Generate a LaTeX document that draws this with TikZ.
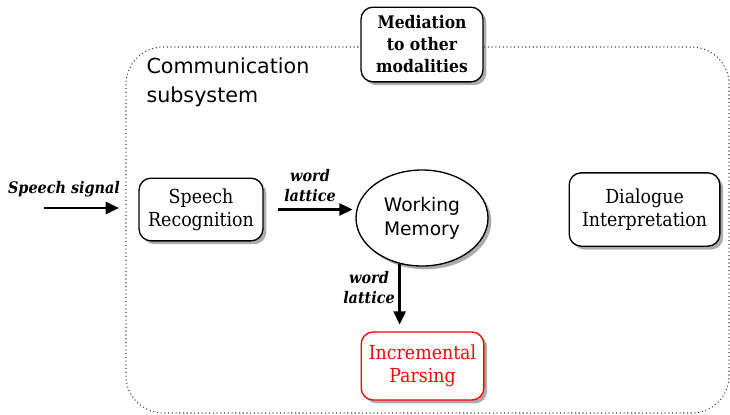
\documentclass[tikz,border=0pt]{standalone}
\usepackage{fontspec}
\setmainfont{DejaVu Serif Condensed}
\setsansfont{DejaVu Sans}
\usetikzlibrary{shapes.geometric,shadows,arrows.meta}

\tikzset{every picture/.style={line width=0.75pt}}
\tikzset{
  procbox/.style={draw, line width=1pt, rounded corners=9pt, fill=white, align=center, inner sep=1pt,
    font=\fontsize{14.5}{17}\selectfont,
    drop shadow={shadow xshift=2.5pt, shadow yshift=-2.5pt, fill=black!65}},
  flow/.style={line width=2pt, -{Triangle[length=10pt,width=9pt]}},
  flowlabel/.style={font=\fontsize{12}{15}\selectfont\bfseries\itshape, align=center, inner sep=0pt}
}

\begin{document}
\begin{tikzpicture}[x=0.75pt,y=0.75pt,yscale=-1,xscale=1]
\useasboundingbox (0,0) rectangle (730,414);

%Frame of the subsystem
\draw [dotted, line width=0.8pt, black!75, rounded corners=28pt] (126,47) rectangle (729,413);
\node [anchor=north west, align=left, inner sep=0pt, font=\sffamily\fontsize{15.5}{21.75}\selectfont] (title) at (146,57) {Communication\\subsystem};

%Boxes
\node [procbox, minimum width=91.5pt, minimum height=56pt, font=\fontsize{13}{16.5}\selectfont\bfseries] (med) at (422,44.5) {Mediation\\to other\\modalities};
\node [procbox, minimum width=93pt, minimum height=47pt] (sr) at (201,209.5) {Speech\\Recognition};
\node [ellipse, draw, line width=1pt, fill=white, minimum width=99pt, minimum height=72pt, align=center, font=\sffamily\fontsize{14}{18}\selectfont,
  drop shadow={shadow xshift=2.5pt, shadow yshift=-2.5pt, fill=black!65}] (wm) at (422,218) {Working\\Memory};
\node [procbox, minimum width=113pt, minimum height=55pt] (di) at (644.5,209.5) {Dialogue\\Interpretation};
\node [procbox, draw=red, text=red, minimum width=92pt, minimum height=51pt] (ip) at (422.5,366) {Incremental\\Parsing};

%Connectors
\coordinate (sigin) at (44,208);
\coordinate (sigout) at (119,208);
\draw [flow] (sigin) -- (sigout);
\node [flowlabel, anchor=south] (siglab) at (64,198) {Speech signal};

\draw [flow, shorten <=10.5pt, shorten >=2pt] (sr.east) -- (sr.east -| wm.west);
\node [flowlabel] (lat1) at (310,186) {word\\lattice};

\draw [flow, shorten >=5pt] (wm.244) -- (wm.244 |- ip.north);
\node [flowlabel] (lat2) at (369,288) {word\\lattice};
\end{tikzpicture}
\end{document}
